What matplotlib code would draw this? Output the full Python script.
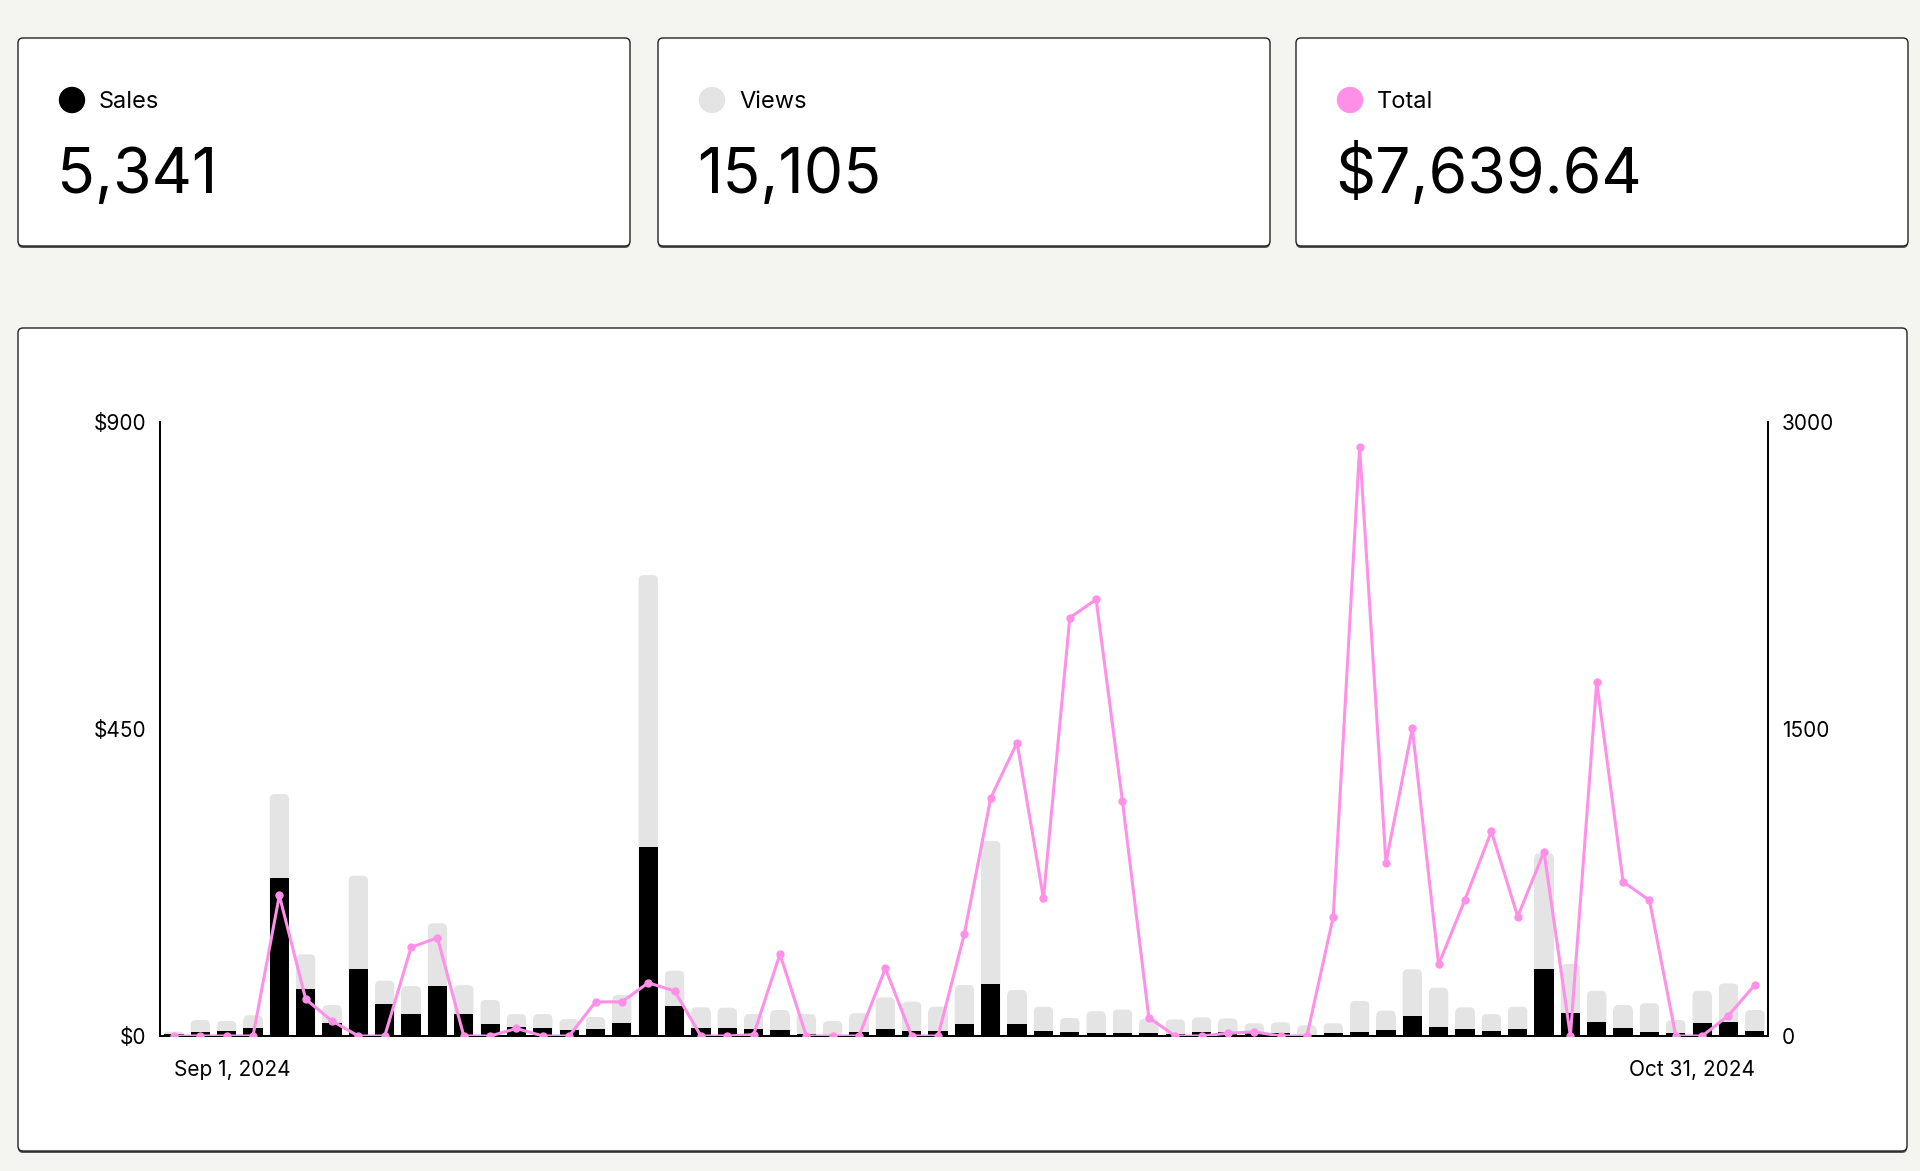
import matplotlib
matplotlib.use('Agg')
import matplotlib.pyplot as plt
from matplotlib.patches import FancyBboxPatch, Circle
import pandas as pd

plt.rcParams['font.family'] = ['Inter', 'DejaVu Sans']

# daily data, Sep 1 - Oct 31 2024
days = pd.date_range('2024-09-01', '2024-10-31')
sales = [10, 21, 26, 41, 770, 230, 65, 327, 156, 107,
         246, 107, 59, 46, 37, 29, 33, 65, 922, 147,
         37, 41, 33, 29, 10, 3, 18, 33, 26, 24,
         57, 254, 59, 26, 18, 16, 13, 13, 11, 21,
         21, 13, 13, 7, 16, 21, 29, 98, 46, 36,
         26, 33, 326, 114, 67, 41, 21, 13, 65, 67,
         24]
views = [21, 78, 73, 101, 1182, 399, 151, 783, 270, 244,
         551, 248, 176, 107, 107, 83, 93, 200, 2252, 319,
         140, 138, 107, 127, 107, 73, 111, 189, 168, 143,
         249, 953, 225, 143, 88, 121, 129, 85, 81, 91,
         86, 62, 67, 52, 62, 171, 124, 326, 236, 140,
         107, 143, 893, 352, 221, 151, 160, 78, 221, 257,
         127]
total = [0, 0, 0, 0, 206, 54, 22, 0, 0, 130,
         144, 0, 0, 11, 0, 0, 50, 50, 78, 66,
         0, 0, 2, 120, 0, 0, 0, 99, 0, 0,
         150, 349, 430, 202, 613, 640, 344, 27, 0, 0,
         4, 6, 0, 0, 175, 863, 254, 451, 105, 200,
         300, 175, 270, 0, 519, 226, 199, 0, 0, 30,
         75]

card_names = ['Sales', 'Views', 'Total']
card_values = ['5,341', '15,105', '$7,639.64']

BG = '#f4f4f0'
PINK = '#ff90e8'
GREY = '#e4e4e4'

W, H = 1920, 1171
fig = plt.figure(figsize=(W / 100, H / 100), dpi=100, facecolor=BG)

# background layer in pixel coords for cards and panel
bg = fig.add_axes([0, 0, 1, 1])
bg.set_xlim(0, W)
bg.set_ylim(H, 0)
bg.axis('off')


def card(x0, y0, x1, y1):
    shadow = FancyBboxPatch((x0, y0 + 2), x1 - x0, y1 - y0,
                            boxstyle='round,pad=0,rounding_size=5',
                            facecolor='#555555', edgecolor='none')
    box = FancyBboxPatch((x0, y0), x1 - x0, y1 - y0,
                         boxstyle='round,pad=0,rounding_size=5',
                         facecolor='white', edgecolor='#222222', linewidth=1.0)
    bg.add_patch(shadow)
    bg.add_patch(box)


dot_colors = ['black', GREY, PINK]
card_x = [18, 658, 1296]
for i in range(3):
    x0 = card_x[i]
    card(x0, 38, x0 + 612, 246)
    bg.add_patch(Circle((x0 + 54, 100), 12.5, color=dot_colors[i]))
    bg.text(x0 + 81, 101.5, card_names[i], fontsize=17, va='center', ha='left', color='black')
    bg.text(x0 + 39, 193, card_values[i], fontsize=45, va='baseline', ha='left', color='black')

card(18, 328, 1907, 1151)

# chart
ax = fig.add_axes([160 / W, 1 - 1036 / H, 1608 / W, (1036 - 422) / H])
ax2 = ax.twinx()

x = list(range(len(days)))
ax.set_xlim(-0.53, len(days) - 0.5)
ax.set_ylim(0, 900)
ax2.set_ylim(0, 3000)

vbars = ax2.bar(x, views, width=0.73, color=GREY, zorder=1)
ax2.bar(x, sales, width=0.73, color='black', zorder=2)
ax.plot(x, total, color=PINK, linewidth=2.2, marker='o', markersize=5, zorder=3)

# round the top corners of the views bars
p0 = ax2.transData.transform((0, 0))
p1 = ax2.transData.transform((1, 1))
xpx, ypx = p1[0] - p0[0], p1[1] - p0[1]
r_px = 5
rx = r_px / xpx
ry = r_px / ypx
aspect = ry / rx
for rect in vbars:
    bx, bw, bh = rect.get_x(), rect.get_width(), rect.get_height()
    rs = min(rx, bh / aspect / 2)
    ax2.add_patch(FancyBboxPatch((bx, 0), bw, bh,
                                 boxstyle=f'round,pad=0,rounding_size={rs}',
                                 mutation_aspect=aspect, facecolor=GREY,
                                 edgecolor='none', zorder=1))
    rect.set_height(max(bh - rs * aspect, 0))

ax.set_zorder(ax2.get_zorder() + 1)
ax.patch.set_visible(False)

ax.set_yticks([0, 450, 900], ['$0', '$450', '$900'])
ax2.set_yticks([0, 1500, 3000], ['0', '1500', '3000'])

ax.set_xticks([0, len(days) - 1],
              [days[0].strftime('%b %-d, %Y'), days[-1].strftime('%b %-d, %Y')])
labs = ax.get_xticklabels()
labs[0].set_ha('left')
labs[1].set_ha('right')

for a in (ax, ax2):
    a.spines['top'].set_visible(False)
    for s in ('left', 'right', 'bottom'):
        a.spines[s].set_linewidth(1.4)
        a.spines[s].set_color('black')
    a.tick_params(length=0, labelsize=15, colors='black')
ax.tick_params(axis='y', pad=10)
ax2.tick_params(axis='y', pad=10)
ax.tick_params(axis='x', pad=17)

fig.savefig('out.png', dpi=100, facecolor=BG)
